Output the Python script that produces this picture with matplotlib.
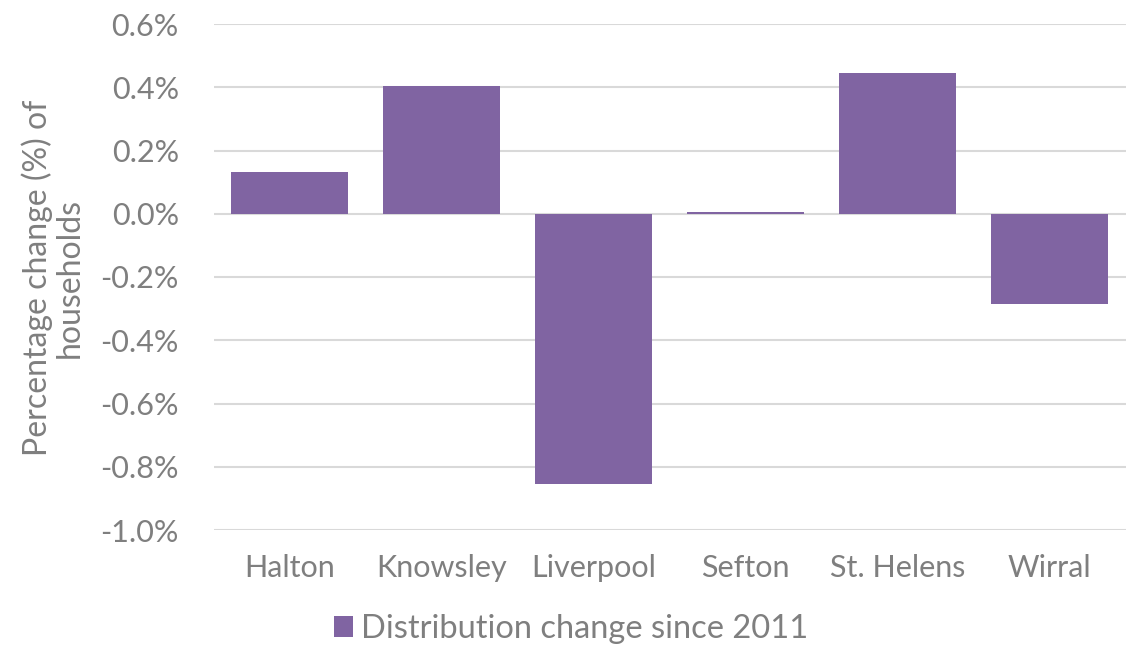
import matplotlib
matplotlib.use("Agg")
import matplotlib.pyplot as plt
from matplotlib.ticker import FuncFormatter, FixedLocator

categories = ["Halton", "Knowsley", "Liverpool", "Sefton", "St. Helens", "Wirral"]
values = [0.131, 0.405, -0.856, 0.006, 0.444, -0.286]
series_name = "Distribution change since 2011"
yticks = [-1.0, -0.8, -0.6, -0.4, -0.2, 0.0, 0.2, 0.4, 0.6]

plt.rcParams['font.family'] = ['Lato', 'DejaVu Sans']
gray = "#7f7f7f"
purple = "#8064A2"
fs = 22

fig = plt.figure(figsize=(11.35, 6.46), dpi=100)
ax = fig.add_axes([213.5/1135, 116/646, 912/1135, 506/646])

x = list(range(len(categories)))
ax.bar(x, values, width=0.77, color=purple, zorder=3, label=series_name)

ax.set_xlim(-0.5, len(categories) - 0.5)
ax.set_ylim(-1.0, 0.6)
ax.yaxis.set_major_locator(FixedLocator(yticks))
ax.yaxis.set_major_formatter(FuncFormatter(lambda v, p: f"{v:.1f}%"))
ax.grid(axis='y', color="#d9d9d9", linewidth=1.5, zorder=0)
ax.set_axisbelow(True)
for s in ax.spines.values():
    s.set_visible(False)
ax.tick_params(axis='both', length=0, labelsize=fs, colors=gray)
ax.tick_params(axis='y', pad=25)
ax.tick_params(axis='x', pad=17)
ax.set_xticks(x)
ax.set_xticklabels(categories)

fig.text(53/1135, 1 - 278/646, "Percentage change (%) of\nhouseholds", rotation=90,
         ha='center', va='center', fontsize=23, color=gray, linespacing=1.1)

handles, labels = ax.get_legend_handles_labels()
fig.legend(handles, labels, loc='center', bbox_to_anchor=(571/1135, 1 - 629/646),
           frameon=False, fontsize=23.5, labelcolor=gray, handlelength=0.6,
           handleheight=0.6, handletextpad=0.25)

fig.savefig("out.png", dpi=100)
